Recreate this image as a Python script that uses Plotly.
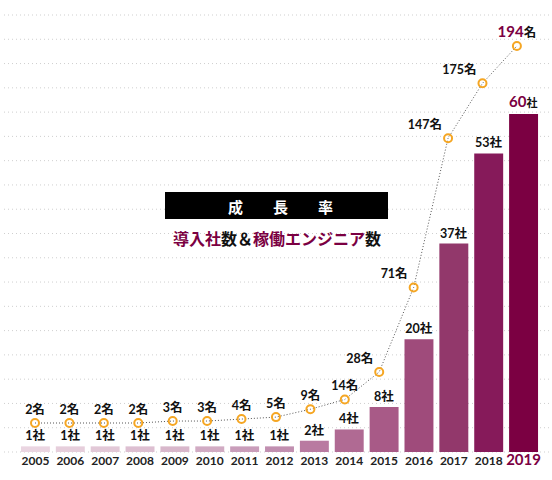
import plotly.graph_objects as go

years = ["2005", "2006", "2007", "2008", "2009", "2010", "2011", "2012",
         "2013", "2014", "2015", "2016", "2017", "2018", "2019"]
companies = [1, 1, 1, 1, 1, 1, 1, 1, 2, 4, 8, 20, 37, 53, 60]
engineers = [2, 2, 2, 2, 3, 3, 4, 5, 9, 14, 28, 71, 147, 175, 194]

title_text = "成　　長　　率"
MAROON = "#7b0042"

bar_colors = ["#ead5e1", "#e6cedb", "#e2c8d7", "#ddbfd1", "#d8b7cb", "#d1abc3",
              "#c99dba", "#c18fb0", "#b97aa1", "#b06a93", "#a85a87", "#9f4b7b",
              "#92386b", "#861a5a", "#7b0042"]

L, R, T, B = 18, 11, 15, 28
W, H = 552, 480
PW, PH = W - L - R, H - T - B


def px(x):
    return (x - L) / PW


def py(y):
    return (H - B - y) / PH


bar_text = [f"{v}社" for v in companies]
bar_text[-1] = f"<span style='color:{MAROON};font-size:17px'>{companies[-1]}</span>社"
line_text = [f"{v}名" for v in engineers]
line_text[-1] = f"<span style='color:{MAROON};font-size:15px'>{engineers[-1]}</span>名"
line_pos = ["top center"] * 10 + ["top left"] * 4 + ["top center"]

tick_text = list(years)
tick_text[-1] = f"<span style='color:{MAROON};font-size:15px'><b>{years[-1]}</b></span>"

FONT = "Lato, 'Noto Sans CJK JP', sans-serif"

fig = go.Figure()
fig.add_trace(go.Bar(
    x=years, y=companies, marker=dict(color=bar_colors, line=dict(width=0)),
    width=0.83, text=bar_text, textposition="outside", cliponaxis=False,
    textfont=dict(family=FONT, size=12.5, color="#111", weight="bold"), hoverinfo="skip",
))
fig.add_trace(go.Scatter(
    x=list(range(len(years))), y=engineers, xaxis="x2", yaxis="y2",
    mode="lines+markers+text",
    line=dict(color="#555", width=1, dash="1px,2px"),
    marker=dict(symbol="circle-open", size=8, color="#f5a623", line=dict(width=2, color="#f5a623")),
    text=line_text, textposition=line_pos, cliponaxis=False,
    textfont=dict(family=FONT, size=12.5, color="#111", weight="bold"), hoverinfo="skip",
))

shapes = []
for k in range(19):
    shapes.append(dict(type="line", xref="paper", yref="paper",
                       x0=px(4), x1=px(552), y0=k / 18, y1=k / 18,
                       line=dict(color="#cfcfcf", width=1, dash="1px,3px"), layer="below"))
shapes.append(dict(type="rect", xref="paper", yref="paper",
                   x0=px(165), x1=px(388), y0=py(219), y1=py(192),
                   fillcolor="#000", line=dict(width=0)))

annotations = [
    dict(xref="paper", yref="paper", x=px(280), y=py(206), text=f"<b>{title_text}</b>",
         showarrow=False, font=dict(family="'Noto Sans CJK JP'", size=15, color="#fff")),
    dict(xref="paper", yref="paper", x=px(276.5), y=py(238),
         text=f"<b><span style='color:{MAROON}'>導入社</span>数＆<span style='color:{MAROON}'>稼働エンジニア</span>数</b>",
         showarrow=False, font=dict(family="'Noto Sans CJK JP'", size=16, color="#111")),
]

fig.update_layout(
    width=W, height=H, margin=dict(l=L, r=R, t=T, b=B),
    paper_bgcolor="#fff", plot_bgcolor="rgba(0,0,0,0)",
    showlegend=False, bargap=0.17,
    xaxis=dict(type="category", range=[-0.5, 14.5], tickmode="array", tickvals=years,
               ticktext=tick_text, showgrid=False, zeroline=False, showline=False, ticks="",
               tickfont=dict(family=FONT, size=12, color="#222", weight="bold"), fixedrange=True),
    xaxis2=dict(overlaying="x", range=[-0.494, 14.70], visible=False),
    yaxis=dict(range=[0, PH / (338 / 60)], visible=False),
    yaxis2=dict(overlaying="y", range=[-12.77, 209.79], visible=False),
    shapes=shapes, annotations=annotations,
)

fig.write_html("out.html", config={"displayModeBar": False, "staticPlot": True})
with open("out.html", encoding="utf-8") as f:
    html = f.read()
html = html.replace("<body>", "<body style=\"margin:0;padding:0;overflow:hidden\">", 1)
with open("out.html", "w", encoding="utf-8") as f:
    f.write(html)
